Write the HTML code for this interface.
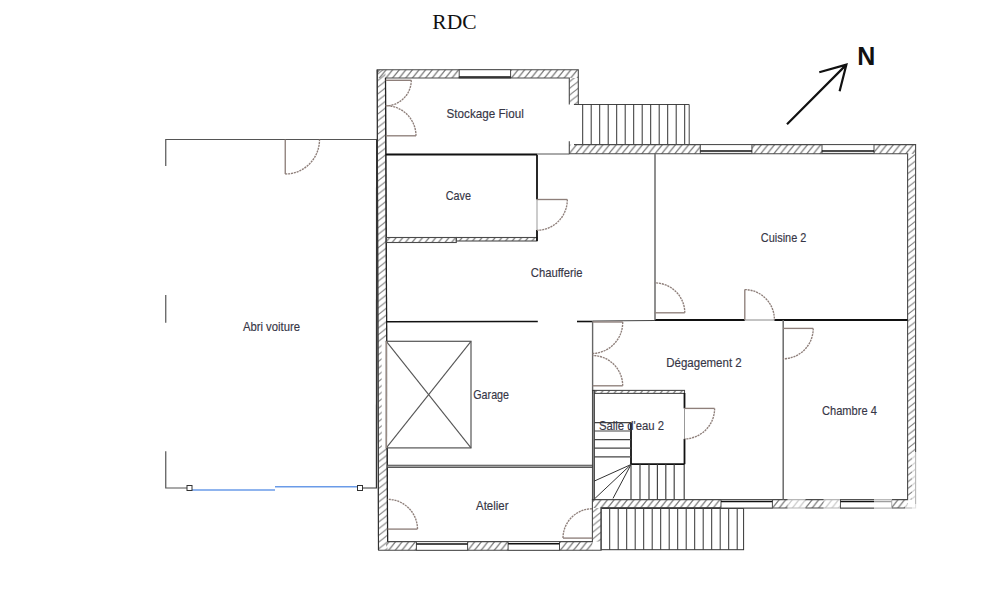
<!DOCTYPE html>
<html><head><meta charset="utf-8"><style>
html,body{margin:0;padding:0;background:#fff;}
svg{display:block;}
text{font-family:"Liberation Sans",sans-serif;}
</style></head><body>
<svg width="1000" height="598" viewBox="0 0 1000 598">
<defs>
<pattern id="h" patternUnits="userSpaceOnUse" width="6.6" height="8.2">
<path d="M-1,1.24 L1,-1.24 M0,8.2 L6.6,0 M5.6,9.44 L7.6,6.96" stroke="#707070" stroke-width="1.2"/>
</pattern>
<pattern id="hv" patternUnits="userSpaceOnUse" width="8.4" height="6.7">
<path d="M-1,0.8 L1,-0.8 M0,6.7 L8.4,0 M7.4,7.5 L9.4,5.9" stroke="#7a7a7a" stroke-width="0.95"/>
</pattern>
</defs>
<rect width="1000" height="598" fill="#fff"/>

<text x="432.3" y="29.1" font-size="21.5" fill="#111" style="font-family:'Liberation Serif',serif">RDC</text>
<path d="M787,124.2 L846.4,64.6 M819.3,72.3 L846.4,64.6 L839.6,91.3" fill="none" stroke="#111" stroke-width="2.2"/>
<text x="857.3" y="65" font-size="25" font-weight="bold" fill="#111">N</text>
<path d="M165.75,166 L165.75,139.5 L377,139.5" fill="none" stroke="#555" stroke-width="1.2"/>
<line x1="165.75" y1="295" x2="165.75" y2="322.7" stroke="#555" stroke-width="1.2" />
<path d="M165.75,451.2 L165.75,488 L187,488" fill="none" stroke="#555" stroke-width="1.2"/>
<line x1="362" y1="488" x2="377" y2="488" stroke="#555" stroke-width="1.2" />
<line x1="376.6" y1="139.5" x2="376.4" y2="488" stroke="#333" stroke-width="1.2" />
<line x1="192" y1="490" x2="275" y2="490" stroke="#6a9be8" stroke-width="1.6" />
<line x1="275" y1="486.8" x2="358" y2="486.8" stroke="#6a9be8" stroke-width="1.6" />
<rect x="187" y="485.5" width="5" height="5" fill="#fff" stroke="#333" stroke-width="1"/>
<rect x="357.5" y="485.5" width="5" height="5" fill="#fff" stroke="#333" stroke-width="1"/>
<line x1="285.25" y1="139.5" x2="285.25" y2="174" stroke="#8e7f7a" stroke-width="1.35"/>
<path d="M285.25,174 A34.3,34.3 0 0 0 319.5,139.5" fill="none" stroke="#8e7f7a" stroke-width="1.35" stroke-dasharray="2.1,0.8"/>
<rect x="377" y="69.7" width="201.30" height="8.30" fill="url(#h)"/>
<rect x="569.3" y="78" width="9.00" height="26.30" fill="url(#hv)"/>
<polygon points="377.2,69.7 385.5,69.7 387.6,550.3 378.5,550.3" fill="url(#hv)"/>
<rect x="569.3" y="144.6" width="346.30" height="9.20" fill="url(#h)"/>
<rect x="907.6" y="153.8" width="8.00" height="345.80" fill="url(#hv)"/>
<rect x="592.4" y="499.6" width="315.20" height="8.40" fill="url(#h)"/>
<rect x="592.4" y="508" width="8.70" height="33.60" fill="url(#hv)"/>
<rect x="386" y="541.6" width="206.40" height="8.70" fill="url(#h)"/>
<path d="M574,104.5 H689.2 V144.6" fill="none" stroke="#444" stroke-width="1"/>
<line x1="582.7" y1="104.5" x2="582.7" y2="144.6" stroke="#333" stroke-width="1" />
<line x1="591.2" y1="104.5" x2="591.2" y2="144.6" stroke="#333" stroke-width="1" />
<line x1="599.7" y1="104.5" x2="599.7" y2="144.6" stroke="#333" stroke-width="1" />
<line x1="608.2" y1="104.5" x2="608.2" y2="144.6" stroke="#333" stroke-width="1" />
<line x1="616.7" y1="104.5" x2="616.7" y2="144.6" stroke="#333" stroke-width="1" />
<line x1="625.2" y1="104.5" x2="625.2" y2="144.6" stroke="#333" stroke-width="1" />
<line x1="633.7" y1="104.5" x2="633.7" y2="144.6" stroke="#333" stroke-width="1" />
<line x1="642.2" y1="104.5" x2="642.2" y2="144.6" stroke="#333" stroke-width="1" />
<line x1="650.7" y1="104.5" x2="650.7" y2="144.6" stroke="#333" stroke-width="1" />
<line x1="659.2" y1="104.5" x2="659.2" y2="144.6" stroke="#333" stroke-width="1" />
<line x1="667.7" y1="104.5" x2="667.7" y2="144.6" stroke="#333" stroke-width="1" />
<line x1="676.2" y1="104.5" x2="676.2" y2="144.6" stroke="#333" stroke-width="1" />
<line x1="684.7" y1="104.5" x2="684.7" y2="144.6" stroke="#333" stroke-width="1" />
<rect x="601.1" y="508" width="142.5" height="41.7" fill="#fff" stroke="#333" stroke-width="1"/>
<line x1="601.1" y1="508.3" x2="743.6" y2="508.3" stroke="#222" stroke-width="1.4" />
<line x1="609.7" y1="508" x2="609.7" y2="549.7" stroke="#333" stroke-width="1" />
<line x1="618.2" y1="508" x2="618.2" y2="549.7" stroke="#333" stroke-width="1" />
<line x1="626.7" y1="508" x2="626.7" y2="549.7" stroke="#333" stroke-width="1" />
<line x1="635.2" y1="508" x2="635.2" y2="549.7" stroke="#333" stroke-width="1" />
<line x1="643.7" y1="508" x2="643.7" y2="549.7" stroke="#333" stroke-width="1" />
<line x1="652.2" y1="508" x2="652.2" y2="549.7" stroke="#333" stroke-width="1" />
<line x1="660.7" y1="508" x2="660.7" y2="549.7" stroke="#333" stroke-width="1" />
<line x1="669.2" y1="508" x2="669.2" y2="549.7" stroke="#333" stroke-width="1" />
<line x1="677.7" y1="508" x2="677.7" y2="549.7" stroke="#333" stroke-width="1" />
<line x1="686.2" y1="508" x2="686.2" y2="549.7" stroke="#333" stroke-width="1" />
<line x1="694.7" y1="508" x2="694.7" y2="549.7" stroke="#333" stroke-width="1" />
<line x1="703.2" y1="508" x2="703.2" y2="549.7" stroke="#333" stroke-width="1" />
<line x1="711.7" y1="508" x2="711.7" y2="549.7" stroke="#333" stroke-width="1" />
<line x1="720.2" y1="508" x2="720.2" y2="549.7" stroke="#333" stroke-width="1" />
<line x1="728.7" y1="508" x2="728.7" y2="549.7" stroke="#333" stroke-width="1" />
<line x1="737.2" y1="508" x2="737.2" y2="549.7" stroke="#333" stroke-width="1" />
<path d="M378.5,550.3 L377.2,69.7 H578.3 V104" fill="none" stroke="#4a4a4a" stroke-width="1.1"/>
<path d="M569.3,104.6 V78 H385.5 L387.6,541.6 H592.4 V499.6 H907.6 V153.8 H569.3 V141.2" fill="none" stroke="#4a4a4a" stroke-width="1.1"/>
<path d="M574,144.6 H915.6 V508 H601.1 V550.3 H378.5" fill="none" stroke="#4a4a4a" stroke-width="1.1"/>
<line x1="385.9" y1="154" x2="569.3" y2="154" stroke="#555" stroke-width="1" />
<line x1="377.2" y1="69.7" x2="378.5" y2="550.3" stroke="#333" stroke-width="1.1" />
<line x1="385.5" y1="78" x2="386.7" y2="341.3" stroke="#222" stroke-width="1.2" />
<line x1="387.2" y1="447.9" x2="387.6" y2="541.6" stroke="#222" stroke-width="1.2" />
<polygon points="381.6,341.8 387.4,341.8 387.9,447.4 381.9,447.4" fill="#fff"/>
<rect x="459.2" y="69.7" width="51.40" height="8.30" fill="#fff" stroke="#4a4a4a" stroke-width="1"/>
<line x1="459.2" y1="77" x2="510.6" y2="77" stroke="#111" stroke-width="1.5" />
<rect x="700.3" y="144.6" width="51.60" height="8.80" fill="#fff" stroke="#4a4a4a" stroke-width="1"/>
<line x1="700.3" y1="151.1" x2="751.9" y2="151.1" stroke="#111" stroke-width="1.5" />
<rect x="822" y="144.6" width="52.00" height="8.80" fill="#fff" stroke="#4a4a4a" stroke-width="1"/>
<line x1="822" y1="151.1" x2="874" y2="151.1" stroke="#111" stroke-width="1.5" />
<rect x="721" y="499.6" width="51.40" height="8.40" fill="#fff" stroke="#4a4a4a" stroke-width="1"/>
<line x1="721" y1="501.5" x2="772.4" y2="501.5" stroke="#111" stroke-width="1.5" />
<rect x="840.4" y="499.6" width="51.20" height="8.40" fill="#fff" stroke="#4a4a4a" stroke-width="1"/>
<line x1="840.4" y1="501.5" x2="891.6" y2="501.5" stroke="#111" stroke-width="1.5" />
<rect x="416.4" y="541.6" width="51.20" height="8.70" fill="#fff" stroke="#4a4a4a" stroke-width="1"/>
<line x1="416.4" y1="543.9" x2="467.6" y2="543.9" stroke="#111" stroke-width="1.5" />
<rect x="508.1" y="541.6" width="51.40" height="8.70" fill="#fff" stroke="#4a4a4a" stroke-width="1"/>
<line x1="508.1" y1="543.7" x2="559.5" y2="543.7" stroke="#111" stroke-width="1.5" />
<rect x="386.2" y="237.5" width="70.10" height="5.00" fill="url(#h)" stroke="#4a4a4a" stroke-width="1.1"/>
<rect x="456.3" y="237.5" width="80.70" height="3.50" fill="url(#h)" stroke="#4a4a4a" stroke-width="1.1"/>
<rect x="387.2" y="465.2" width="205.4" height="2.2" fill="#a8a8a8" stroke="#444" stroke-width="0.9"/>
<rect x="592.6" y="390.4" width="91.90" height="3.00" fill="url(#h)" stroke="#4a4a4a" stroke-width="1.1"/>
<line x1="385.9" y1="154.7" x2="537" y2="154.7" stroke="#111" stroke-width="1.8" />
<line x1="537" y1="154.7" x2="537" y2="199.5" stroke="#111" stroke-width="1.8" />
<line x1="537" y1="230" x2="537" y2="241" stroke="#111" stroke-width="1.8" />
<line x1="537" y1="199.5" x2="537" y2="230" stroke="#999" stroke-width="1" />
<line x1="537" y1="199.5" x2="567.3" y2="199.5" stroke="#8e7f7a" stroke-width="1.35"/>
<path d="M567.3,199.5 A30.5,30.5 0 0 1 537,230.3" fill="none" stroke="#8e7f7a" stroke-width="1.35" stroke-dasharray="2.1,0.8"/>
<line x1="386.6" y1="321.8" x2="537.8" y2="321.5" stroke="#111" stroke-width="1.6" />
<line x1="577" y1="321.5" x2="592.6" y2="321.5" stroke="#111" stroke-width="1.6" />
<line x1="592.6" y1="321" x2="655" y2="320.5" stroke="#444" stroke-width="1.2" />
<line x1="655" y1="320" x2="744.8" y2="320" stroke="#111" stroke-width="2" />
<line x1="744.8" y1="320" x2="774.4" y2="320" stroke="#888" stroke-width="1" />
<line x1="774.4" y1="320" x2="907.6" y2="320" stroke="#111" stroke-width="2" />
<line x1="655" y1="153.8" x2="655" y2="320" stroke="#6a6a6a" stroke-width="1.5" />
<line x1="592.6" y1="321" x2="592.6" y2="390.4" stroke="#666" stroke-width="1.4" />
<rect x="592.4" y="390.4" width="2" height="109.2" fill="#8a8a8a" stroke="#3a3a3a" stroke-width="0.9"/>
<line x1="783.2" y1="320" x2="783.2" y2="499.6" stroke="#6a6a6a" stroke-width="1.5" />
<line x1="684.5" y1="393" x2="684.5" y2="408.4" stroke="#111" stroke-width="1.8" />
<line x1="684.5" y1="408.4" x2="684.5" y2="438.9" stroke="#999" stroke-width="1" />
<line x1="684.5" y1="438.9" x2="684.5" y2="464.2" stroke="#111" stroke-width="1.8" />
<line x1="684.2" y1="464.2" x2="684.2" y2="499.6" stroke="#444" stroke-width="1.2" />
<line x1="631" y1="422.6" x2="631" y2="464.2" stroke="#111" stroke-width="1.8" />
<line x1="631" y1="464.2" x2="684.5" y2="464.2" stroke="#111" stroke-width="1.8" />
<line x1="594" y1="422.6" x2="631" y2="422.6" stroke="#444" stroke-width="1.2" />
<line x1="594" y1="431" x2="631" y2="431" stroke="#444" stroke-width="1.2" />
<line x1="594" y1="439.7" x2="631" y2="439.7" stroke="#444" stroke-width="1.2" />
<line x1="594" y1="448.2" x2="631" y2="448.2" stroke="#444" stroke-width="1.2" />
<line x1="594" y1="456.9" x2="631" y2="456.9" stroke="#444" stroke-width="1.2" />
<line x1="631" y1="464.5" x2="594" y2="481.2" stroke="#333" stroke-width="1" />
<line x1="631" y1="464.5" x2="595" y2="498.4" stroke="#333" stroke-width="1" />
<line x1="631" y1="464.5" x2="613" y2="498.4" stroke="#333" stroke-width="1" />
<line x1="631" y1="464.2" x2="631" y2="499.6" stroke="#444" stroke-width="1.2" />
<line x1="640" y1="464.2" x2="640" y2="499.6" stroke="#444" stroke-width="1.2" />
<line x1="649" y1="464.2" x2="649" y2="499.6" stroke="#444" stroke-width="1.2" />
<line x1="657.4" y1="464.2" x2="657.4" y2="499.6" stroke="#444" stroke-width="1.2" />
<line x1="665.8" y1="464.2" x2="665.8" y2="499.6" stroke="#444" stroke-width="1.2" />
<line x1="674.2" y1="464.2" x2="674.2" y2="499.6" stroke="#444" stroke-width="1.2" />
<rect x="386.3" y="341.3" width="84.7" height="106.6" fill="none" stroke="#555" stroke-width="1.2"/>
<line x1="386.3" y1="341.3" x2="471" y2="447.9" stroke="#555" stroke-width="1.1" />
<line x1="471" y1="341.3" x2="386.3" y2="447.9" stroke="#555" stroke-width="1.1" />
<line x1="386.3" y1="341.3" x2="386.3" y2="447.9" stroke="#a09088" stroke-width="1.2" />
<line x1="385.7" y1="80.3" x2="411.3" y2="80.3" stroke="#8e7f7a" stroke-width="1.35"/>
<path d="M411.3,80.3 A25.6,25.6 0 0 1 385.7,105.8" fill="none" stroke="#8e7f7a" stroke-width="1.35" stroke-dasharray="2.1,0.8"/>
<line x1="385.7" y1="135.8" x2="416" y2="135.8" stroke="#8e7f7a" stroke-width="1.35"/>
<path d="M416,135.8 A30.3,30.3 0 0 0 385.7,105.6" fill="none" stroke="#8e7f7a" stroke-width="1.35" stroke-dasharray="2.1,0.8"/>
<line x1="654.7" y1="312.8" x2="684.8" y2="312.8" stroke="#8e7f7a" stroke-width="1.35"/>
<path d="M684.8,312.8 A30,30 0 0 0 654.7,282.9" fill="none" stroke="#8e7f7a" stroke-width="1.35" stroke-dasharray="2.1,0.8"/>
<line x1="744.8" y1="320" x2="744.8" y2="289.6" stroke="#8e7f7a" stroke-width="1.35"/>
<path d="M744.8,289.6 A30,30 0 0 1 774.4,320" fill="none" stroke="#8e7f7a" stroke-width="1.35" stroke-dasharray="2.1,0.8"/>
<line x1="592.6" y1="322" x2="622.7" y2="322" stroke="#8e7f7a" stroke-width="1.35"/>
<path d="M622.7,322 A31,31 0 0 1 592.6,353.5" fill="none" stroke="#8e7f7a" stroke-width="1.35" stroke-dasharray="2.1,0.8"/>
<line x1="592.6" y1="385.8" x2="622.7" y2="385.8" stroke="#8e7f7a" stroke-width="1.35"/>
<path d="M622.7,385.8 A30.3,30.3 0 0 0 592.6,355.5" fill="none" stroke="#8e7f7a" stroke-width="1.35" stroke-dasharray="2.1,0.8"/>
<line x1="783" y1="328.4" x2="813.2" y2="328.4" stroke="#8e7f7a" stroke-width="1.35"/>
<path d="M813.2,328.4 A30.2,30.2 0 0 1 783,358.8" fill="none" stroke="#8e7f7a" stroke-width="1.35" stroke-dasharray="2.1,0.8"/>
<line x1="684.5" y1="408.4" x2="714.6" y2="408.4" stroke="#8e7f7a" stroke-width="1.35"/>
<path d="M714.6,408.4 A30.4,30.4 0 0 1 684.5,438.9" fill="none" stroke="#8e7f7a" stroke-width="1.35" stroke-dasharray="2.1,0.8"/>
<line x1="387.5" y1="529.1" x2="417.5" y2="529.1" stroke="#8e7f7a" stroke-width="1.35"/>
<path d="M417.5,529.1 A30,30 0 0 0 387.5,499.3" fill="none" stroke="#8e7f7a" stroke-width="1.35" stroke-dasharray="2.1,0.8"/>
<line x1="592.4" y1="538.1" x2="563" y2="538.1" stroke="#8e7f7a" stroke-width="1.35"/>
<path d="M563,538.1 A29.5,29.5 0 0 1 592.4,508.7" fill="none" stroke="#8e7f7a" stroke-width="1.35" stroke-dasharray="2.1,0.8"/>
<rect x="787.5" y="496" width="18.0" height="14" fill="#fff" opacity="0.6"/>
<rect x="823.5" y="496" width="16.5" height="14" fill="#fff" opacity="0.6"/>
<rect x="874" y="496" width="18" height="14" fill="#fff" opacity="0.6"/>
<rect x="912" y="452" width="6" height="58" fill="#fff" opacity="0.6"/>
<rect x="905" y="504" width="13" height="6" fill="#fff" opacity="0.6"/>
<text transform="translate(447.5,118.3) scale(0.974,1)" x="-1" y="0" font-size="12" fill="#363646" stroke="#363646" stroke-width="0.15">Stockage Fioul</text>
<text transform="translate(445.75,200.0) scale(0.902,1)" x="0" y="0" font-size="12" fill="#363646" stroke="#363646" stroke-width="0.15">Cave</text>
<text transform="translate(530.8,276.5) scale(0.938,1)" x="0" y="0" font-size="12" fill="#363646" stroke="#363646" stroke-width="0.15">Chaufferie</text>
<text transform="translate(760.8,241.5) scale(0.910,1)" x="0" y="0" font-size="12" fill="#363646" stroke="#363646" stroke-width="0.15">Cuisine 2</text>
<text transform="translate(473.3,399.0) scale(0.893,1)" x="0" y="0" font-size="12" fill="#363646" stroke="#363646" stroke-width="0.15">Garage</text>
<text transform="translate(667.2,367.2) scale(0.958,1)" x="-1" y="0" font-size="12" fill="#363646" stroke="#363646" stroke-width="0.15">Dégagement 2</text>
<text transform="translate(822,414.5) scale(0.925,1)" x="0" y="0" font-size="12" fill="#363646" stroke="#363646" stroke-width="0.15">Chambre 4</text>
<text transform="translate(599.9,430.4) scale(0.943,1)" x="-1" y="0" font-size="12" fill="#363646" stroke="#363646" stroke-width="0.15">Salle d'eau 2</text>
<text transform="translate(476,509.6) scale(0.956,1)" x="0" y="0" font-size="12" fill="#363646" stroke="#363646" stroke-width="0.15">Atelier</text>
<text transform="translate(242.9,330.7) scale(0.941,1)" x="0" y="0" font-size="12" fill="#363646" stroke="#363646" stroke-width="0.15">Abri voiture</text>
</svg></body></html>
